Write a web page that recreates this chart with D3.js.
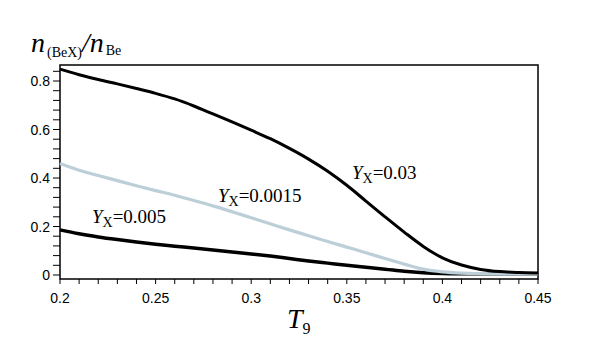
<!DOCTYPE html>
<html><head><meta charset="utf-8">
<script src="https://cdn.jsdelivr.net/npm/d3@7"></script>
<style>body{margin:0;background:#fff}</style>
</head><body>
<svg id="c" width="599" height="346"></svg>
<script>
const T = [0.20,0.21,0.22,0.23,0.24,0.25,0.26,0.27,0.28,0.29,0.30,0.31,0.32,0.33,0.34,0.35,0.36,0.37,0.38,0.39,0.40,0.41,0.42,0.43,0.44,0.45];
const y003 = [0.849,0.826,0.806,0.788,0.769,0.749,0.726,0.697,0.664,0.631,0.597,0.562,0.522,0.478,0.428,0.370,0.305,0.240,0.177,0.118,0.071,0.041,0.023,0.014,0.010,0.008];
const y00015 = [0.460,0.432,0.410,0.389,0.368,0.348,0.329,0.307,0.285,0.261,0.236,0.211,0.186,0.162,0.138,0.115,0.092,0.068,0.045,0.024,0.013,0.008,0.006,0.005,0.005,0.005];
const y0005 = [0.186,0.170,0.157,0.146,0.136,0.127,0.119,0.111,0.103,0.095,0.087,0.078,0.068,0.058,0.049,0.040,0.032,0.024,0.015,0.009,0.006,0.005,0.005,0.005,0.005,0.005];
const xTicks = [0.2,0.25,0.3,0.35,0.4,0.45];
const yTicks = [0,0.2,0.4,0.6,0.8];
const labels = [
  {name:"0.03", t:0.3527, v:0.396},
  {name:"0.0015", t:0.2826, v:0.301},
  {name:"0.005", t:0.2167, v:0.214}
];

const svg = d3.select("#c");
const x = d3.scaleLinear().domain([0.2,0.45]).range([60,538]);
const y = d3.scaleLinear().domain([-0.0165,0.866]).range([279,65]);

const xMinor = d3.range(0,26).map(i=>0.2+i*0.01);
const yMinor = d3.range(0,22).map(i=>i*0.04);

const g = svg.append("g");
g.selectAll(".xt").data(xMinor).join("line")
  .attr("x1",d=>x(d)).attr("x2",d=>x(d)).attr("y1",279).attr("y2",284)
  .attr("stroke","#000").attr("stroke-width",1);
g.selectAll(".yt").data(yMinor).join("line")
  .attr("x1",53).attr("x2",60).attr("y1",d=>y(d)).attr("y2",d=>y(d))
  .attr("stroke","#000").attr("stroke-width",1);

g.selectAll(".xl").data(xTicks).join("text")
  .attr("x",d=>x(d)).attr("y",303).attr("text-anchor","middle")
  .attr("font-family","Liberation Sans, Arial, sans-serif").attr("font-size",14)
  .text(d=>d3.format("")(+d.toFixed(2)));
g.selectAll(".yl").data(yTicks).join("text")
  .attr("x",50).attr("y",d=>y(d)+5).attr("text-anchor","end")
  .attr("font-family","Liberation Sans, Arial, sans-serif").attr("font-size",14)
  .text(d=>d3.format("")(+d.toFixed(1)));

svg.append("rect").attr("x",60).attr("y",65).attr("width",478).attr("height",214)
  .attr("fill","none").attr("stroke","#000").attr("stroke-width",1.5);

const line = d3.line().x((d,i)=>x(T[i])).y(d=>y(d)).curve(d3.curveCatmullRom.alpha(0.5));
svg.append("path").attr("d",line(y0005)).attr("fill","none").attr("stroke","#000").attr("stroke-width",3.5);
svg.append("path").attr("d",line(y00015)).attr("fill","none").attr("stroke","#bccfd8").attr("stroke-width",3.2);
svg.append("path").attr("d",line(y003)).attr("fill","none").attr("stroke","#000").attr("stroke-width",3);

labels.forEach(l=>{
  const t = svg.append("text").attr("x",x(l.t)).attr("y",y(l.v))
    .attr("font-family","Liberation Serif, Times New Roman, serif").attr("font-size",19);
  t.append("tspan").attr("font-style","italic").text("Y");
  t.append("tspan").attr("font-size",14).attr("dy",4).text("X");
  t.append("tspan").attr("dy",-4).text("="+l.name);
});

const yt = svg.append("text").attr("x",31).attr("y",52)
  .attr("font-family","Liberation Serif, Times New Roman, serif").attr("font-size",28);
yt.append("tspan").attr("font-style","italic").text("n");
yt.append("tspan").attr("font-size",14).attr("dx",2).attr("dy",5).text("(BeX)");
yt.append("tspan").attr("font-style","italic").attr("dy",-5).text("/n");
yt.append("tspan").attr("font-size",14).attr("dx",2).attr("dy",3).text("Be");

const xt = svg.append("text").attr("x",287).attr("y",328)
  .attr("font-family","Liberation Serif, Times New Roman, serif").attr("font-size",28);
xt.append("tspan").attr("font-style","italic").text("T");
xt.append("tspan").attr("font-size",16).attr("dy",6).text("9");
</script>
</body></html>
